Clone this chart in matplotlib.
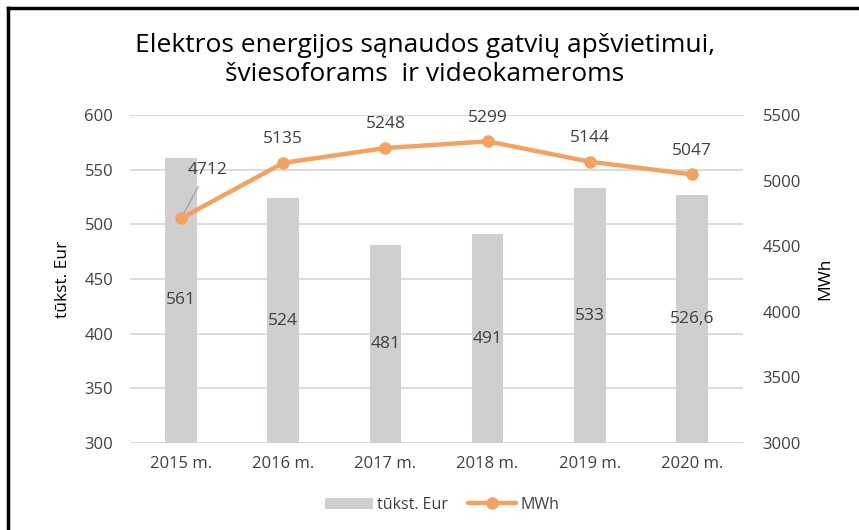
import matplotlib
matplotlib.use("Agg")
import matplotlib.pyplot as plt
from matplotlib.lines import Line2D
import numpy as np

plt.rcParams['font.family'] = ['Open Sans', 'DejaVu Sans']

years = ["2015 m.", "2016 m.", "2017 m.", "2018 m.", "2019 m.", "2020 m."]
eur = [561, 524, 481, 491, 533, 526.6]
eur_labels = ["561", "524", "481", "491", "533", "526,6"]
mwh = [4712, 5135, 5248, 5299, 5144, 5047]

title = "Elektros energijos sąnaudos gatvių apšvietimui,\nšviesoforams  ir videokameroms"

bar_color = "#D0CECE"
line_color = "#F4A262"
text_color = "#404040"
grid_color = "#D9D9D9"

fig = plt.figure(figsize=(8.59, 5.30), dpi=100)
ax = fig.add_axes([130/859, 1-443/530, (743-130)/859, (443-115)/530])
ax2 = ax.twinx()

x = np.arange(len(years))
ax.bar(x, [v - 300 for v in eur], bottom=300, width=0.31, color=bar_color, zorder=2, label="tūkst. Eur")
ax.set_ylim(300, 600)
ax.set_yticks(range(300, 601, 50))
ax.set_xlim(-0.5, len(years) - 0.5)
ax.set_xticks(x)
ax.set_xticklabels(years, fontsize=11.5)
ax.yaxis.grid(True, color=grid_color, lw=1.3, zorder=0)
ax.set_axisbelow(True)
for s in ax.spines.values():
    s.set_visible(False)
for s in ax2.spines.values():
    s.set_visible(False)
ax.tick_params(length=0, labelsize=12, colors=text_color, pad=12)
ax.tick_params(axis='x', pad=9)
ax.set_ylabel("tūkst. Eur", fontsize=12.5, color="black", labelpad=10)

for xi, v, lab in zip(x, eur, eur_labels):
    ax.text(xi, (300 + v) / 2, lab, ha="center", va="center", fontsize=12.5, color=text_color, zorder=3)

ax2.plot(x, mwh, color=line_color, lw=3.2, marker="o", ms=8, zorder=4, label="MWh", solid_capstyle="round")
ax2.set_ylim(3000, 5500)
ax2.set_yticks(range(3000, 5501, 500))
ax2.tick_params(length=0, labelsize=12, colors=text_color, pad=14)
ax2.set_ylabel("MWh", fontsize=12.5, color="black", labelpad=12)

for i, (xi, v) in enumerate(zip(x, mwh)):
    if i == 0:
        ax2.annotate(str(v), xy=(xi, v), xytext=(19, 35), textcoords="offset points",
                     ha="center", va="center", fontsize=12.5, color=text_color,
                     arrowprops=dict(arrowstyle="-", color="#A6A6A6", lw=1, shrinkA=5, shrinkB=3))
    else:
        ax2.annotate(str(v), xy=(xi, v), xytext=(0, 17), textcoords="offset points",
                     ha="center", va="center", fontsize=12.5, color=text_color)

fig.text(425/859, 1-60/530, title, ha="center", va="center", fontsize=19, color="black", linespacing=1.25)

h1, l1 = ax.get_legend_handles_labels()
h2, l2 = ax2.get_legend_handles_labels()
fig.legend(h1 + h2, l1 + l2, loc="center", bbox_to_anchor=(442/859, 1-505/530), ncol=2,
           frameon=False, fontsize=11.5, handlelength=3, columnspacing=1.2, handletextpad=0.3,
           labelcolor=text_color)

fig.add_artist(Line2D([8/859, 8/859], [0, 1-8/530], color="black", lw=2.5, transform=fig.transFigure))
fig.add_artist(Line2D([8/859, 1], [1-8/530, 1-8/530], color="black", lw=2.5, transform=fig.transFigure))

fig.savefig("out.png", dpi=100)
